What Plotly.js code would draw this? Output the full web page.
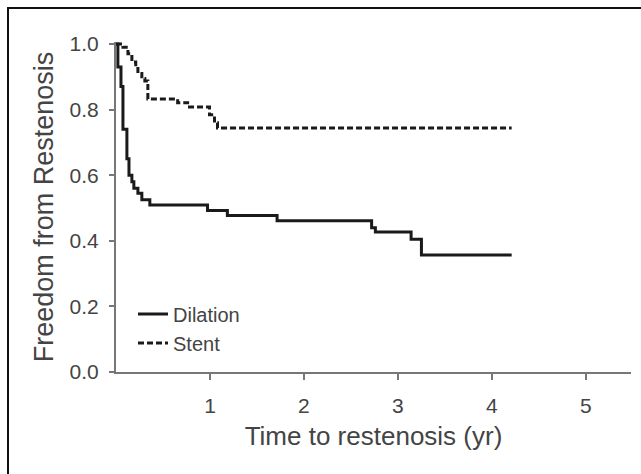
<!DOCTYPE html>
<html>
<head>
<meta charset="utf-8">
<script src="https://cdn.plot.ly/plotly-3.0.1.min.js"></script>
<style>
  html, body { margin: 0; padding: 0; background: #fff; }
  #chart { width: 641px; height: 474px; position: absolute; left: 0; top: 0; }
  #frame { position: absolute; left: 7px; top: 7px; width: 700px; height: 600px;
           border-left: 2px solid #111; border-top: 2px solid #111; pointer-events: none; }
</style>
</head>
<body>
<div id="chart"></div>
<div id="frame"></div>
<script>
// Kaplan-Meier estimates
const dilationTime = [0, 0.02, 0.053, 0.074, 0.116, 0.138, 0.169, 0.19, 0.233, 0.275, 0.36, 0.974, 1.185, 1.714, 2.72, 2.76, 3.14, 3.25, 4.21];
const dilationSurv = [1.0, 0.93, 0.87, 0.74, 0.65, 0.60, 0.58, 0.56, 0.545, 0.525, 0.509, 0.492, 0.477, 0.461, 0.44, 0.427, 0.405, 0.357, 0.357];

const stentTime = [0, 0.074, 0.127, 0.169, 0.21, 0.233, 0.275, 0.307, 0.339, 0.656, 0.762, 0.995, 1.048, 1.08, 4.21];
const stentSurv = [1.0, 0.99, 0.97, 0.945, 0.93, 0.91, 0.895, 0.887, 0.832, 0.821, 0.808, 0.784, 0.76, 0.744, 0.744];

const xTickVals = [1, 2, 3, 4, 5];
const xTickText = ['1', '2', '3', '4', '5'];
const yTickVals = [0, 0.2, 0.4, 0.6, 0.8, 1.0];
const yTickText = ['0.0', '0.2', '0.4', '0.6', '0.8', '1.0'];

const seriesNames = ['Dilation', 'Stent'];

const FONT = 'Liberation Sans, Arial, sans-serif';

const traces = [
  {
    x: dilationTime, y: dilationSurv, name: seriesNames[0],
    type: 'scatter', mode: 'lines', line: { shape: 'hv', color: '#1a1a1a', width: 3 },
    legendgroup: 'a'
  },
  {
    x: stentTime, y: stentSurv, name: seriesNames[1],
    type: 'scatter', mode: 'lines', line: { shape: 'hv', color: '#1a1a1a', width: 3, dash: '6px,3px' },
    legendgroup: 'b'
  }
];

const layout = {
  width: 641, height: 474,
  margin: { l: 116, r: 10, t: 42, b: 102 },
  paper_bgcolor: 'rgba(0,0,0,0)',
  plot_bgcolor: 'rgba(0,0,0,0)',
  font: { family: FONT, color: '#444', size: 18 },
  showlegend: true,
  legend: {
    x: 0.033, y: 0.235, xanchor: 'left', yanchor: 'top',
    font: { family: FONT, size: 20, color: '#444' },
    bgcolor: 'rgba(0,0,0,0)', itemwidth: 30,
    traceorder: 'grouped', tracegroupgap: 0
  },
  xaxis: {
    range: [0, 5.48], showgrid: false, zeroline: false,
    showline: true, linecolor: '#777', linewidth: 2,
    ticks: 'outside', ticklen: 6, tickwidth: 2, tickcolor: '#777',
    tickvals: xTickVals, ticktext: xTickText, ticklabelstandoff: 8,
    tickfont: { family: FONT, size: 21, color: '#444' },
    title: { text: 'Time to restenosis (yr)', font: { family: FONT, size: 26, color: '#444' }, standoff: 11 }
  },
  yaxis: {
    range: [0, 1.006], showgrid: false, zeroline: false,
    showline: true, linecolor: '#777', linewidth: 2,
    ticks: 'outside', ticklen: 5, tickwidth: 2, tickcolor: '#777',
    tickvals: yTickVals, ticktext: yTickText, ticklabelstandoff: 6,
    tickfont: { family: FONT, size: 21, color: '#444' },
    title: { text: 'Freedom from Restenosis', font: { family: FONT, size: 27, color: '#444' }, standoff: 8 }
  }
};

Plotly.newPlot('chart', traces, layout, { staticPlot: true, displayModeBar: false });
</script>
</body>
</html>
